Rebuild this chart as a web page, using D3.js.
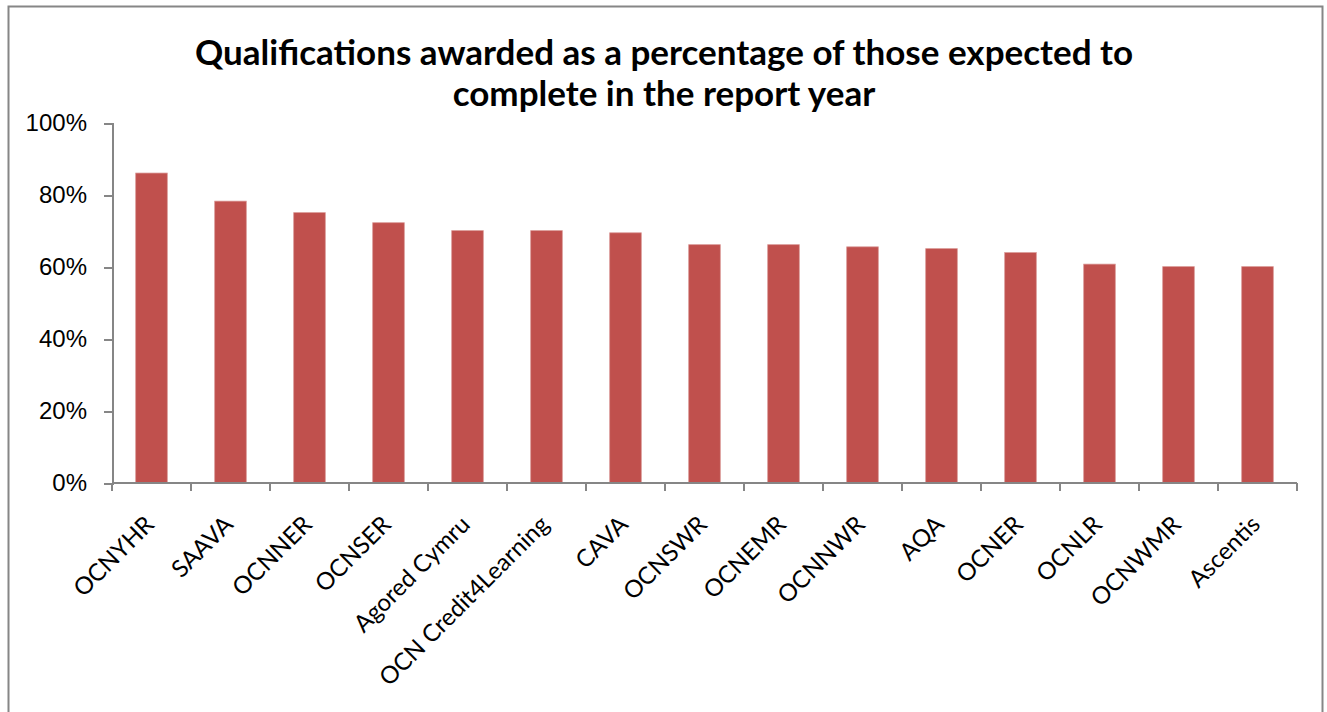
<!DOCTYPE html>
<html>
<head>
<meta charset="utf-8">
<script src="https://cdn.jsdelivr.net/npm/d3@7/dist/d3.min.js"></script>
<style>
  body { margin: 0; background: #fff; }
  svg { display: block; font-family: Lato, "Open Sans", sans-serif; }
  .axis path, .axis line { stroke: #868686; stroke-width: 2; shape-rendering: crispEdges; }
  .axis text { fill: #000; }
</style>
</head>
<body>
<svg id="chart" width="1327" height="712"></svg>
<script>
"use strict";

var categories = ["OCNYHR", "SAAVA", "OCNNER", "OCNSER", "Agored Cymru", "OCN Credit4Learning",
  "CAVA", "OCNSWR", "OCNEMR", "OCNNWR", "AQA", "OCNER", "OCNLR", "OCNWMR", "Ascentis"];
var values = [0.861, 0.783, 0.751, 0.723, 0.701, 0.701, 0.695, 0.662, 0.662, 0.656, 0.651, 0.640, 0.608, 0.601, 0.601];
var yTicks = [0, 0.2, 0.4, 0.6, 0.8, 1.0];
var titleLines = ["Qualifications awarded as a percentage of those expected to", "complete in the report year"];

var svg = d3.select("#chart");

// chart area frame (runs off the bottom)
svg.append("rect")
  .attr("x", 8.5).attr("y", 6.5)
  .attr("width", 1314).attr("height", 760)
  .attr("fill", "#fff")
  .attr("stroke", "#868686")
  .attr("stroke-width", 2);

var margin = {left: 112, top: 123, right: 1297, bottom: 483};

var x = d3.scaleBand()
  .domain(categories)
  .range([margin.left, margin.right])
  .paddingInner(0.6)
  .paddingOuter(0.3);

var y = d3.scaleLinear()
  .domain([0, 1])
  .range([margin.bottom, margin.top]);

// title
svg.append("text")
  .attr("x", 664)
  .attr("y", 65)
  .attr("text-anchor", "middle")
  .style("font-weight", "bold")
  .style("font-size", "35px")
  .selectAll("tspan")
  .data(titleLines)
  .enter().append("tspan")
    .attr("x", 664)
    .attr("dy", function(d, i) { return i === 0 ? 0 : 41; })
    .text(function(d) { return d; });

// bars
svg.append("g")
  .selectAll("rect")
  .data(values)
  .enter().append("rect")
    .attr("x", function(d, i) { return x(categories[i]); })
    .attr("y", function(d) { return y(d); })
    .attr("width", x.bandwidth())
    .attr("height", function(d) { return y(0) - y(d); })
    .attr("fill", "#C0504D")
    .attr("stroke", "#D99694")
    .attr("stroke-width", 0.75);

// y axis
var yAxis = d3.axisLeft(y)
  .tickValues(yTicks)
  .tickSize(8)
  .tickPadding(17)
  .tickFormat(d3.format(".0%"));

svg.append("g")
  .attr("class", "y axis")
  .attr("transform", "translate(" + margin.left + ",0)")
  .call(yAxis)
  .selectAll("text")
    .style("font-size", "24px");

// x axis: ticks sit on the category boundaries like Excel
var step = (margin.right - margin.left) / categories.length;
var boundaries = d3.range(categories.length + 1).map(function(i) { return margin.left + i * step; });

var xg = svg.append("g").attr("class", "x axis");
xg.append("line")
  .attr("x1", margin.left).attr("x2", margin.right)
  .attr("y1", margin.bottom).attr("y2", margin.bottom);
xg.selectAll(".tick")
  .data(boundaries)
  .enter().append("line")
    .attr("class", "tick")
    .attr("x1", function(d) { return d; }).attr("x2", function(d) { return d; })
    .attr("y1", margin.bottom).attr("y2", margin.bottom + 8);

xg.selectAll(".label")
  .data(categories)
  .enter().append("text")
    .attr("class", "label")
    .attr("text-anchor", "end")
    .style("font-size", "24px")
    .attr("transform", function(d) {
      var cx = x(d) + x.bandwidth() / 2 + 4;
      return "translate(" + cx + "," + (margin.bottom + 43) + ") rotate(-45)";
    })
    .text(function(d) { return d; });
</script>
</body>
</html>
